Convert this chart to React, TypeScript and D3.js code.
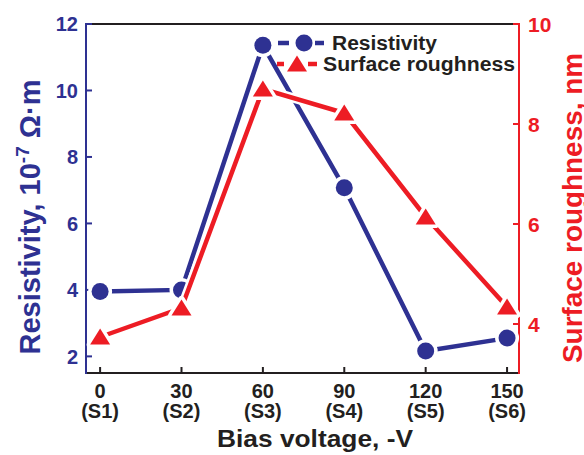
import React from 'react';
import * as d3 from 'd3';

const categories = [0, 30, 60, 90, 120, 150];
const sampleLabels = ['(S1)', '(S2)', '(S3)', '(S4)', '(S5)', '(S6)'];
const resistivity = [3.95, 4.0, 11.36, 7.07, 2.16, 2.55];
const roughness = [3.74, 4.32, 8.7, 8.22, 6.14, 4.34];
const leftTicks = [2, 4, 6, 8, 10, 12];
const rightTicks = [4, 6, 8, 10];

const W = 584, H = 455;
const L = 86, R = 519, T = 24, B = 373;
const BLUE = '#2e3192', RED = '#ed1c24', BLACK = '#231f20';
const FONT = '"Liberation Sans", Arial, Helvetica, sans-serif';
const LW = 4.5;
const TRI = 'M0,-8.5L10,7.5L-10,7.5Z';

export default function App() {
  const x = d3.scaleLinear().domain([-5.2, 154.4]).range([L, R]);
  const yL = d3.scaleLinear().domain([1.5, 12]).range([B, T]);
  const yR = d3.scaleLinear().domain([3.02, 10]).range([B, T]);

  const lineL = d3.line<number>().x((_, i) => x(categories[i])).y(d => yL(d));
  const lineR = d3.line<number>().x((_, i) => x(categories[i])).y(d => yR(d));

  return (
    <svg width={W} height={H} style={{ position: 'absolute', left: 0, top: 0, display: 'block', background: '#fff' }}
      fontFamily={FONT} fontWeight="bold">
      <rect x={0} y={0} width={W} height={H} fill="#fff" />
      {/* frame */}
      <line x1={L} x2={R} y1={T} y2={T} stroke={BLACK} strokeWidth={2} />
      <line x1={L} x2={R} y1={B} y2={B} stroke={BLACK} strokeWidth={2} />
      <line x1={L} x2={L} y1={T - 1} y2={B + 1} stroke={BLUE} strokeWidth={2} />
      <line x1={R} x2={R} y1={T - 1} y2={B + 1} stroke={RED} strokeWidth={2} />

      {/* bottom ticks */}
      {categories.map((c, i) => (
        <g key={'xt' + c}>
          <line x1={x(c)} x2={x(c)} y1={B} y2={B - 6} stroke={BLACK} strokeWidth={2} />
          <text x={x(c)} y={397.5} textAnchor="middle" fontSize={20} fill={BLACK}>{c}</text>
          <text x={x(c)} y={418} textAnchor="middle" fontSize={20} fill={BLACK}>{sampleLabels[i]}</text>
        </g>
      ))}
      {/* left ticks */}
      {leftTicks.map(t => (
        <g key={'lt' + t}>
          <line x1={L} x2={L + 6} y1={yL(t)} y2={yL(t)} stroke={BLUE} strokeWidth={2} />
          <text x={78} y={yL(t)} dy="0.36em" textAnchor="end" fontSize={20} fill={BLUE}>{t}</text>
        </g>
      ))}
      {/* right ticks */}
      {rightTicks.map(t => (
        <g key={'rt' + t}>
          <line x1={R} x2={R - 6} y1={yR(t)} y2={yR(t)} stroke={RED} strokeWidth={2} />
          <text x={528} y={yR(t)} dy="0.36em" textAnchor="start" fontSize={21} fill={RED}>{t}</text>
        </g>
      ))}

      {/* axis titles */}
      <text x={315} y={447} textAnchor="middle" fontSize={24} fill={BLACK} textLength={196} lengthAdjust="spacingAndGlyphs">Bias voltage, -V</text>
      <text transform="translate(40,217) rotate(-90)" textAnchor="middle" fontSize={29} fill={BLUE}>
        Resistivity, 10<tspan dy={-11} fontSize={19}>-7</tspan><tspan dy={11}> Ω·m</tspan>
      </text>
      <text transform="translate(582,208) rotate(-90)" textAnchor="middle" fontSize={27} fill={RED} textLength={310} lengthAdjust="spacingAndGlyphs">Surface roughness, nm</text>

      {/* resistivity series */}
      <path d={lineL(resistivity) || ''} fill="none" stroke="#fff" strokeWidth={LW + 5} />
      <path d={lineL(resistivity) || ''} fill="none" stroke={BLUE} strokeWidth={LW} />
      {resistivity.map((v, i) => (
        <circle key={'c' + i} cx={x(categories[i])} cy={yL(v)} r={8.5} fill={BLUE} stroke="#fff" strokeWidth={7} paintOrder="stroke" />
      ))}
      {/* roughness series */}
      <path d={lineR(roughness) || ''} fill="none" stroke="#fff" strokeWidth={LW + 5} />
      <path d={lineR(roughness) || ''} fill="none" stroke={RED} strokeWidth={LW} />
      {roughness.map((v, i) => (
        <path key={'t' + i} d={TRI} transform={`translate(${x(categories[i])},${yR(v)})`} fill={RED} stroke="#fff" strokeWidth={7} strokeLinejoin="round" paintOrder="stroke" />
      ))}

      {/* legend */}
      <g>
        <line x1={278} x2={289} y1={43} y2={43} stroke={BLUE} strokeWidth={LW} />
        <line x1={315} x2={324} y1={43} y2={43} stroke={BLUE} strokeWidth={LW} />
        <circle cx={304} cy={43} r={8.5} fill={BLUE} />
        <text x={332} y={49.5} fontSize={20} fill={BLACK} textLength={105} lengthAdjust="spacingAndGlyphs">Resistivity</text>
        <line x1={277} x2={284} y1={64} y2={64} stroke={RED} strokeWidth={LW} />
        <line x1={308} x2={317} y1={64} y2={64} stroke={RED} strokeWidth={LW} />
        <path d={TRI} transform="translate(297,64)" fill={RED} />
        <text x={323} y={71} fontSize={20} fill={BLACK} textLength={192} lengthAdjust="spacingAndGlyphs">Surface roughness</text>
      </g>
    </svg>
  );
}
